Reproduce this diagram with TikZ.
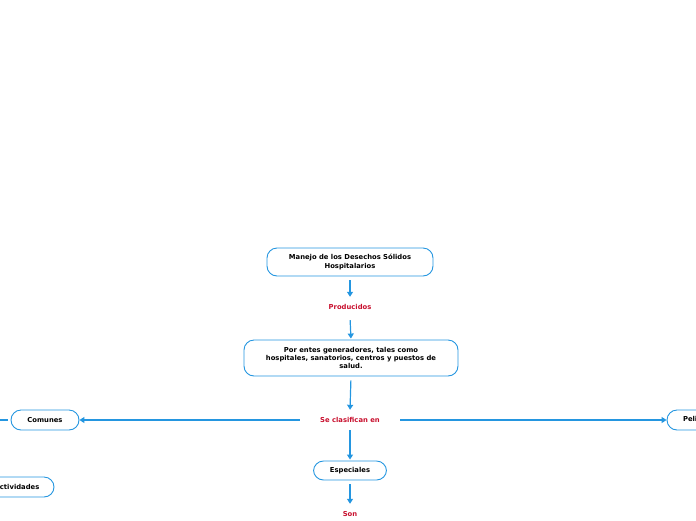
\documentclass[tikz,border=0pt]{standalone}
\usepackage{fontspec}
\setmainfont{DejaVu Sans}
\usetikzlibrary{arrows.meta}
\definecolor{lineblue}{RGB}{36,150,224}
\definecolor{labelred}{RGB}{200,16,46}
\begin{document}
\begin{tikzpicture}[x=1pt,y=-1pt,
  box/.style={draw=lineblue, line width=0.9pt, rounded corners=10pt, fill=white,
    font=\bfseries\fontsize{6.8}{8.4}\selectfont, align=center, inner sep=0pt},
  lbl/.style={text=labelred, font=\bfseries\fontsize{6.8}{8.4}\selectfont,
    inner sep=0pt, minimum height=20pt},
  conn/.style={draw=lineblue, line width=1.2pt, -{Triangle[length=5pt,width=6pt]}},
  plain/.style={draw=lineblue, line width=1.2pt}]
\useasboundingbox (0,0) rectangle (696,520);
\clip (0,0) rectangle (696,520);
\node[box, minimum width=166pt, minimum height=28pt] (n1) at (350,262)
  {Manejo de los Desechos Sólidos\\Hospitalarios};
\node[lbl] (prod) at (350,307) {Producidos};
\node[box, minimum width=214pt, minimum height=36pt] (n2) at (351,358)
  {Por entes generadores, tales como\\hospitales, sanatorios, centros y puestos de\\salud.};
\node[lbl, minimum width=100pt] (clas) at (350,420) {Se clasifican en};
\node[box, minimum width=68pt, minimum height=20pt] (com) at (45,420) {Comunes};
\node[box, minimum width=72pt, minimum height=20pt] (pel) at (703,420) {Peligrosos};
\node[box, minimum width=74pt, minimum height=20pt] (act) at (17,487) {Actividades};
\node[box, minimum width=73pt, minimum height=19pt] (esp) at (350,470.5) {Especiales};
\node[lbl] (son) at (350,514) {Son};
\coordinate (offl) at (-30,420);

\draw[conn, shorten <=4pt] (n1.south) -- (prod.north);
\draw[conn, shorten <=3pt, shorten >=1pt] (prod.south) -- (n2.north);
\draw[conn, shorten <=4pt] (n2.south) -- (clas.north);
\draw[conn] (clas.west) -- (com.east);
\draw[conn] (clas.east) -- (pel.west);
\draw[conn, shorten >=1pt] (clas.south) -- (esp.north);
\draw[conn, shorten <=4pt] (esp.south) -- (son.north);
\draw[plain, shorten <=3pt] (com.west) -- (offl);
\end{tikzpicture}
\end{document}
